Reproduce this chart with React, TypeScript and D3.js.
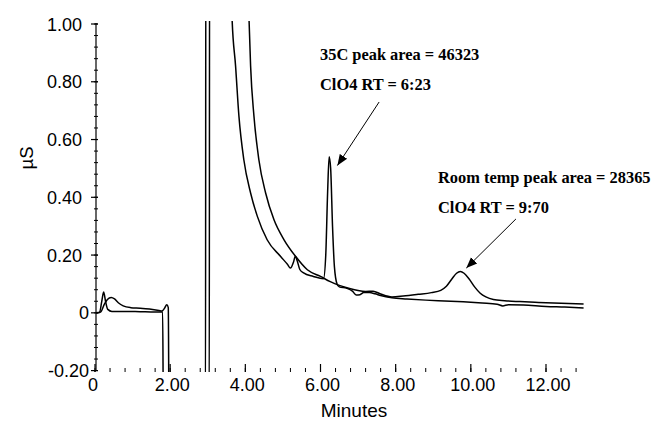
import React from "react";
import * as d3 from "d3";

// ---- data (time in minutes, conductivity in µS) ----
const trace35C: [number, number][] = [
  [0, 0], [0.12, 0.001], [0.18, 0.04], [0.23, 0.072], [0.28, 0.04], [0.34, 0.012],
  [0.45, 0.005], [0.8, 0.005], [1.2, 0.004], [1.6, 0.003], [1.8, 0.003],
  [1.82, -0.35], [2.94, -0.35], [2.95, 1.5], [3.55, 1.5],
  [3.65, 1.01], [3.74, 0.855], [3.83, 0.68], [3.96, 0.53], [4.14, 0.415], [4.32, 0.334],
  [4.58, 0.253], [4.94, 0.195], [5.12, 0.168], [5.2, 0.155], [5.28, 0.175], [5.33, 0.196],
  [5.38, 0.18], [5.45, 0.15], [5.55, 0.138], [5.81, 0.126], [6.08, 0.118], [6.14, 0.2],
  [6.19, 0.42], [6.23, 0.54], [6.27, 0.5], [6.32, 0.3], [6.37, 0.16], [6.44, 0.1],
  [6.5, 0.09], [6.7, 0.085], [6.85, 0.075], [6.95, 0.062], [7.05, 0.063], [7.15, 0.07],
  [7.3, 0.07], [7.45, 0.066], [7.6, 0.06], [7.9, 0.052], [8.3, 0.048], [8.8, 0.044],
  [9.3, 0.041], [9.8, 0.038], [10.3, 0.034], [10.7, 0.03], [10.85, 0.024], [11.0, 0.028],
  [11.4, 0.027], [12.0, 0.022], [12.5, 0.02], [13.0, 0.017],
];

const traceRoomTemp: [number, number][] = [
  [0, 0], [0.15, 0.003], [0.25, 0.03], [0.33, 0.046], [0.43, 0.053], [0.52, 0.048],
  [0.62, 0.035], [0.75, 0.024], [0.95, 0.018], [1.2, 0.016], [1.45, 0.013], [1.7, 0.008],
  [1.78, 0.006], [1.85, 0.016], [1.91, 0.028], [1.95, 0.018],
  [1.97, -0.35], [3.04, -0.35], [3.05, 1.5], [4.0, 1.5],
  [4.1, 1.01], [4.14, 0.855], [4.23, 0.68], [4.36, 0.53], [4.54, 0.415], [4.76, 0.323],
  [5.03, 0.253], [5.34, 0.195], [5.65, 0.149], [6.0, 0.126], [6.26, 0.108], [6.5, 0.095],
  [6.75, 0.085], [7.0, 0.077], [7.2, 0.074], [7.4, 0.075], [7.6, 0.065], [7.9, 0.055],
  [8.2, 0.058], [8.6, 0.064], [8.95, 0.07], [9.2, 0.078], [9.35, 0.092], [9.5, 0.118],
  [9.62, 0.137], [9.72, 0.143], [9.82, 0.137], [9.95, 0.118], [10.1, 0.09], [10.25, 0.068],
  [10.4, 0.055], [10.6, 0.046], [10.9, 0.042], [11.3, 0.039], [11.8, 0.036], [12.4, 0.033],
  [13.0, 0.031],
];

const xMajorTicks = [0, 2, 4, 6, 8, 10, 12];
const xTickLabels = ["0", "2.00", "4.00", "6.00", "8.00", "10.00", "12.00"];
const xMinorStep = 0.4;
const xMinorMax = 12.8;

const yMajorTicks = [-0.2, 0, 0.2, 0.4, 0.6, 0.8, 1.0];
const yTickLabels = ["-0.20", "0", "0.20", "0.40", "0.60", "0.80", "1.00"];
const yMinorStep = 0.04;

const annotations = [
  { lines: ["35C peak area = 46323", "ClO4 RT = 6:23"], from: [7.56, 0.73], to: [6.45, 0.51] },
  { lines: ["Room temp peak area = 28365", "ClO4 RT = 9:70"], from: [11.2, 0.325], to: [9.88, 0.155] },
];

export default function App() {
  const x = d3.scaleLinear().domain([0, 12]).range([95, 546]);
  const y = d3.scaleLinear().domain([-0.2, 1.0]).range([370.6, 24]);
  const axisX = 96;
  const line = d3
    .line<[number, number]>()
    .x((d) => x(d[0]))
    .y((d) => y(d[1]))
    .curve(d3.curveMonotoneX);

  const xMinor = d3.range(0, xMinorMax + 1e-6, xMinorStep);
  const yMinor = d3.range(-0.2, 1.0 + 1e-6, yMinorStep);
  const tickBase = 372;
  const sans = "Liberation Sans, Arial, Helvetica, sans-serif";

  const textPos = [
    { x: 320, y: 60 },
    { x: 438, y: 183 },
  ];

  return (
    <svg width={653} height={425} style={{ position: "absolute", left: 0, top: 0, background: "#fff" }}>
      <style>{"body{margin:0}"}</style>
      <defs>
        <clipPath id="plot">
          <rect x={axisX} y={21} width={520} height={351} />
        </clipPath>
        <marker id="arrow" viewBox="0 0 10 10" refX="10" refY="5" markerWidth="11" markerHeight="11" markerUnits="userSpaceOnUse" orient="auto">
          <path d="M0,1 L10,5 L0,9 Z" fill="#000" />
        </marker>
      </defs>

      {/* y axis */}
      <line x1={axisX} x2={axisX} y1={23} y2={371} stroke="#000" strokeWidth={1.2} />
      {yMinor.map((v, i) => (
        <line key={"ym" + i} x1={axisX - 2} x2={axisX + 2} y1={y(v)} y2={y(v)} stroke="#000" strokeWidth={1} />
      ))}
      {yMajorTicks.map((v, i) => (
        <g key={"yM" + i}>
          <line x1={axisX - 5} x2={axisX + 2} y1={y(v)} y2={y(v)} stroke="#000" strokeWidth={1.2} />
          <text x={v > 0 ? 82 : 89} y={y(v) + 6.5} textAnchor="end" fontFamily={sans} fontSize={18} fill="#000">
            {yTickLabels[i]}
          </text>
        </g>
      ))}

      {/* x axis ticks (no base line) */}
      {xMinor.map((v, i) => (
        <line key={"xm" + i} x1={x(v)} x2={x(v)} y1={tickBase - 4} y2={tickBase} stroke="#000" strokeWidth={1} />
      ))}
      {xMajorTicks.map((v, i) => (
        <g key={"xM" + i}>
          <line x1={x(v)} x2={x(v)} y1={tickBase - 8} y2={tickBase} stroke="#000" strokeWidth={1.2} />
          <text x={x(v) + (i === 0 ? -2 : 2)} y={391} textAnchor="middle" fontFamily={sans} fontSize={18} fill="#000">
            {xTickLabels[i]}
          </text>
        </g>
      ))}

      <text x={354} y={417} textAnchor="middle" fontFamily={sans} fontSize={19} fill="#000">
        Minutes
      </text>
      <text transform="translate(33,158) rotate(-90)" textAnchor="middle" fontFamily={sans} fontSize={18.5} fill="#000">
        µS
      </text>

      {/* traces */}
      <g clipPath="url(#plot)" fill="none" stroke="#000" strokeWidth={1.5} strokeLinejoin="round">
        <path d={line(trace35C) || ""} />
        <path d={line(traceRoomTemp) || ""} />
      </g>

      {/* annotations */}
      {annotations.map((a, i) => (
        <g key={"an" + i}>
          {a.lines.map((l, j) => (
            <text
              key={j}
              x={textPos[i].x}
              y={textPos[i].y + j * 29.5}
              fontFamily="Liberation Serif, Times New Roman, serif"
              fontWeight="bold"
              fontSize={16.4}
              fill="#000"
            >
              {l}
            </text>
          ))}
          <line
            x1={x(a.from[0])}
            y1={y(a.from[1])}
            x2={x(a.to[0])}
            y2={y(a.to[1])}
            stroke="#000"
            strokeWidth={1}
            markerEnd="url(#arrow)"
          />
        </g>
      ))}
    </svg>
  );
}
